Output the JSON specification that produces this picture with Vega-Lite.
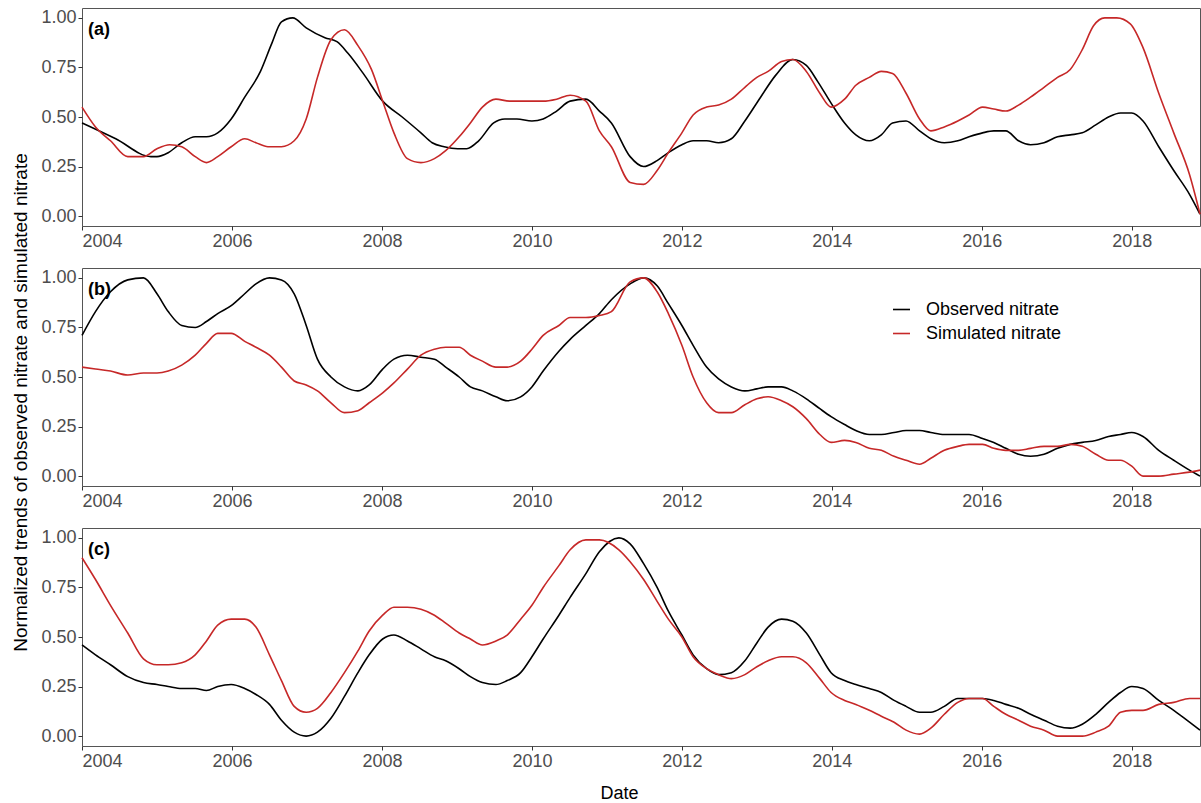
{
  "$schema": "https://vega.github.io/schema/vega-lite/v6.json",
  "background": "white",
  "padding": {"left": 11, "top": 7, "right": 1, "bottom": 1},
  "config": {
    "font": "Liberation Sans",
    "view": {"stroke": "#555555", "strokeWidth": 1},
    "axis": {"grid": false, "domain": false, "tickColor": "#333333", "tickSize": 4, "labelFontSize": 18, "labelColor": "#4d4d4d", "labelPadding": 2, "titleFontSize": 19, "titleColor": "#000000", "titleFontWeight": "normal", "labelFont": "Liberation Sans", "titleFont": "Liberation Sans"}
  },
  "spacing": 42,
  "bounds": "flush",
  "resolve": {"scale": {"color": "independent"}, "legend": {"color": "independent"}},
  "datasets": {
    "d": [
      {"panel":"a","series":"Observed nitrate","year":2004.00,"value":0.47},
      {"panel":"a","series":"Observed nitrate","year":2004.45,"value":0.39},
      {"panel":"a","series":"Observed nitrate","year":2004.92,"value":0.30},
      {"panel":"a","series":"Observed nitrate","year":2005.00,"value":0.30},
      {"panel":"a","series":"Observed nitrate","year":2005.15,"value":0.32},
      {"panel":"a","series":"Observed nitrate","year":2005.33,"value":0.37},
      {"panel":"a","series":"Observed nitrate","year":2005.51,"value":0.40},
      {"panel":"a","series":"Observed nitrate","year":2005.66,"value":0.40},
      {"panel":"a","series":"Observed nitrate","year":2005.81,"value":0.42},
      {"panel":"a","series":"Observed nitrate","year":2005.99,"value":0.49},
      {"panel":"a","series":"Observed nitrate","year":2006.17,"value":0.60},
      {"panel":"a","series":"Observed nitrate","year":2006.38,"value":0.73},
      {"panel":"a","series":"Observed nitrate","year":2006.53,"value":0.87},
      {"panel":"a","series":"Observed nitrate","year":2006.66,"value":0.98},
      {"panel":"a","series":"Observed nitrate","year":2006.81,"value":1.00},
      {"panel":"a","series":"Observed nitrate","year":2006.99,"value":0.95},
      {"panel":"a","series":"Observed nitrate","year":2007.24,"value":0.90},
      {"panel":"a","series":"Observed nitrate","year":2007.40,"value":0.88},
      {"panel":"a","series":"Observed nitrate","year":2007.55,"value":0.82},
      {"panel":"a","series":"Observed nitrate","year":2007.75,"value":0.72},
      {"panel":"a","series":"Observed nitrate","year":2008.01,"value":0.58},
      {"panel":"a","series":"Observed nitrate","year":2008.27,"value":0.50},
      {"panel":"a","series":"Observed nitrate","year":2008.52,"value":0.42},
      {"panel":"a","series":"Observed nitrate","year":2008.67,"value":0.37},
      {"panel":"a","series":"Observed nitrate","year":2008.83,"value":0.35},
      {"panel":"a","series":"Observed nitrate","year":2009.01,"value":0.34},
      {"panel":"a","series":"Observed nitrate","year":2009.13,"value":0.34},
      {"panel":"a","series":"Observed nitrate","year":2009.29,"value":0.38},
      {"panel":"a","series":"Observed nitrate","year":2009.49,"value":0.47},
      {"panel":"a","series":"Observed nitrate","year":2009.64,"value":0.49},
      {"panel":"a","series":"Observed nitrate","year":2009.80,"value":0.49},
      {"panel":"a","series":"Observed nitrate","year":2010.00,"value":0.48},
      {"panel":"a","series":"Observed nitrate","year":2010.15,"value":0.49},
      {"panel":"a","series":"Observed nitrate","year":2010.33,"value":0.53},
      {"panel":"a","series":"Observed nitrate","year":2010.51,"value":0.58},
      {"panel":"a","series":"Observed nitrate","year":2010.72,"value":0.59},
      {"panel":"a","series":"Observed nitrate","year":2010.90,"value":0.53},
      {"panel":"a","series":"Observed nitrate","year":2011.06,"value":0.47},
      {"panel":"a","series":"Observed nitrate","year":2011.31,"value":0.30},
      {"panel":"a","series":"Observed nitrate","year":2011.49,"value":0.25},
      {"panel":"a","series":"Observed nitrate","year":2011.67,"value":0.28},
      {"panel":"a","series":"Observed nitrate","year":2011.82,"value":0.32},
      {"panel":"a","series":"Observed nitrate","year":2012.00,"value":0.36},
      {"panel":"a","series":"Observed nitrate","year":2012.15,"value":0.38},
      {"panel":"a","series":"Observed nitrate","year":2012.33,"value":0.38},
      {"panel":"a","series":"Observed nitrate","year":2012.49,"value":0.37},
      {"panel":"a","series":"Observed nitrate","year":2012.66,"value":0.39},
      {"panel":"a","series":"Observed nitrate","year":2012.84,"value":0.48},
      {"panel":"a","series":"Observed nitrate","year":2013.05,"value":0.60},
      {"panel":"a","series":"Observed nitrate","year":2013.25,"value":0.71},
      {"panel":"a","series":"Observed nitrate","year":2013.48,"value":0.79},
      {"panel":"a","series":"Observed nitrate","year":2013.66,"value":0.76},
      {"panel":"a","series":"Observed nitrate","year":2013.81,"value":0.68},
      {"panel":"a","series":"Observed nitrate","year":2013.99,"value":0.57},
      {"panel":"a","series":"Observed nitrate","year":2014.17,"value":0.47},
      {"panel":"a","series":"Observed nitrate","year":2014.32,"value":0.41},
      {"panel":"a","series":"Observed nitrate","year":2014.50,"value":0.38},
      {"panel":"a","series":"Observed nitrate","year":2014.66,"value":0.41},
      {"panel":"a","series":"Observed nitrate","year":2014.81,"value":0.47},
      {"panel":"a","series":"Observed nitrate","year":2014.99,"value":0.48},
      {"panel":"a","series":"Observed nitrate","year":2015.17,"value":0.43},
      {"panel":"a","series":"Observed nitrate","year":2015.32,"value":0.39},
      {"panel":"a","series":"Observed nitrate","year":2015.50,"value":0.37},
      {"panel":"a","series":"Observed nitrate","year":2015.68,"value":0.38},
      {"panel":"a","series":"Observed nitrate","year":2015.83,"value":0.40},
      {"panel":"a","series":"Observed nitrate","year":2016.01,"value":0.42},
      {"panel":"a","series":"Observed nitrate","year":2016.16,"value":0.43},
      {"panel":"a","series":"Observed nitrate","year":2016.32,"value":0.43},
      {"panel":"a","series":"Observed nitrate","year":2016.49,"value":0.38},
      {"panel":"a","series":"Observed nitrate","year":2016.65,"value":0.36},
      {"panel":"a","series":"Observed nitrate","year":2016.83,"value":0.37},
      {"panel":"a","series":"Observed nitrate","year":2017.01,"value":0.40},
      {"panel":"a","series":"Observed nitrate","year":2017.18,"value":0.41},
      {"panel":"a","series":"Observed nitrate","year":2017.34,"value":0.42},
      {"panel":"a","series":"Observed nitrate","year":2017.52,"value":0.46},
      {"panel":"a","series":"Observed nitrate","year":2017.69,"value":0.50},
      {"panel":"a","series":"Observed nitrate","year":2017.85,"value":0.52},
      {"panel":"a","series":"Observed nitrate","year":2018.00,"value":0.52},
      {"panel":"a","series":"Observed nitrate","year":2018.15,"value":0.48},
      {"panel":"a","series":"Observed nitrate","year":2018.36,"value":0.35},
      {"panel":"a","series":"Observed nitrate","year":2018.56,"value":0.23},
      {"panel":"a","series":"Observed nitrate","year":2018.77,"value":0.11},
      {"panel":"a","series":"Observed nitrate","year":2018.91,"value":0.01},

      {"panel":"a","series":"Simulated nitrate","year":2004.00,"value":0.55},
      {"panel":"a","series":"Simulated nitrate","year":2004.18,"value":0.45},
      {"panel":"a","series":"Simulated nitrate","year":2004.38,"value":0.38},
      {"panel":"a","series":"Simulated nitrate","year":2004.61,"value":0.30},
      {"panel":"a","series":"Simulated nitrate","year":2004.82,"value":0.30},
      {"panel":"a","series":"Simulated nitrate","year":2005.00,"value":0.34},
      {"panel":"a","series":"Simulated nitrate","year":2005.17,"value":0.36},
      {"panel":"a","series":"Simulated nitrate","year":2005.33,"value":0.35},
      {"panel":"a","series":"Simulated nitrate","year":2005.51,"value":0.30},
      {"panel":"a","series":"Simulated nitrate","year":2005.66,"value":0.27},
      {"panel":"a","series":"Simulated nitrate","year":2005.81,"value":0.30},
      {"panel":"a","series":"Simulated nitrate","year":2005.99,"value":0.35},
      {"panel":"a","series":"Simulated nitrate","year":2006.17,"value":0.39},
      {"panel":"a","series":"Simulated nitrate","year":2006.32,"value":0.37},
      {"panel":"a","series":"Simulated nitrate","year":2006.48,"value":0.35},
      {"panel":"a","series":"Simulated nitrate","year":2006.66,"value":0.35},
      {"panel":"a","series":"Simulated nitrate","year":2006.83,"value":0.38},
      {"panel":"a","series":"Simulated nitrate","year":2006.99,"value":0.49},
      {"panel":"a","series":"Simulated nitrate","year":2007.14,"value":0.70},
      {"panel":"a","series":"Simulated nitrate","year":2007.32,"value":0.89},
      {"panel":"a","series":"Simulated nitrate","year":2007.50,"value":0.94},
      {"panel":"a","series":"Simulated nitrate","year":2007.68,"value":0.86},
      {"panel":"a","series":"Simulated nitrate","year":2007.86,"value":0.74},
      {"panel":"a","series":"Simulated nitrate","year":2008.01,"value":0.58},
      {"panel":"a","series":"Simulated nitrate","year":2008.16,"value":0.42},
      {"panel":"a","series":"Simulated nitrate","year":2008.34,"value":0.29},
      {"panel":"a","series":"Simulated nitrate","year":2008.52,"value":0.27},
      {"panel":"a","series":"Simulated nitrate","year":2008.70,"value":0.29},
      {"panel":"a","series":"Simulated nitrate","year":2008.85,"value":0.33},
      {"panel":"a","series":"Simulated nitrate","year":2009.03,"value":0.40},
      {"panel":"a","series":"Simulated nitrate","year":2009.18,"value":0.47},
      {"panel":"a","series":"Simulated nitrate","year":2009.34,"value":0.55},
      {"panel":"a","series":"Simulated nitrate","year":2009.52,"value":0.59},
      {"panel":"a","series":"Simulated nitrate","year":2009.70,"value":0.58},
      {"panel":"a","series":"Simulated nitrate","year":2009.85,"value":0.58},
      {"panel":"a","series":"Simulated nitrate","year":2010.00,"value":0.58},
      {"panel":"a","series":"Simulated nitrate","year":2010.15,"value":0.58},
      {"panel":"a","series":"Simulated nitrate","year":2010.33,"value":0.59},
      {"panel":"a","series":"Simulated nitrate","year":2010.51,"value":0.61},
      {"panel":"a","series":"Simulated nitrate","year":2010.72,"value":0.58},
      {"panel":"a","series":"Simulated nitrate","year":2010.90,"value":0.43},
      {"panel":"a","series":"Simulated nitrate","year":2011.06,"value":0.35},
      {"panel":"a","series":"Simulated nitrate","year":2011.31,"value":0.17},
      {"panel":"a","series":"Simulated nitrate","year":2011.49,"value":0.16},
      {"panel":"a","series":"Simulated nitrate","year":2011.67,"value":0.23},
      {"panel":"a","series":"Simulated nitrate","year":2011.82,"value":0.32},
      {"panel":"a","series":"Simulated nitrate","year":2012.00,"value":0.42},
      {"panel":"a","series":"Simulated nitrate","year":2012.15,"value":0.51},
      {"panel":"a","series":"Simulated nitrate","year":2012.33,"value":0.55},
      {"panel":"a","series":"Simulated nitrate","year":2012.49,"value":0.56},
      {"panel":"a","series":"Simulated nitrate","year":2012.66,"value":0.59},
      {"panel":"a","series":"Simulated nitrate","year":2012.84,"value":0.65},
      {"panel":"a","series":"Simulated nitrate","year":2013.00,"value":0.70},
      {"panel":"a","series":"Simulated nitrate","year":2013.15,"value":0.73},
      {"panel":"a","series":"Simulated nitrate","year":2013.33,"value":0.78},
      {"panel":"a","series":"Simulated nitrate","year":2013.48,"value":0.79},
      {"panel":"a","series":"Simulated nitrate","year":2013.66,"value":0.73},
      {"panel":"a","series":"Simulated nitrate","year":2013.84,"value":0.62},
      {"panel":"a","series":"Simulated nitrate","year":2013.99,"value":0.55},
      {"panel":"a","series":"Simulated nitrate","year":2014.17,"value":0.59},
      {"panel":"a","series":"Simulated nitrate","year":2014.32,"value":0.66},
      {"panel":"a","series":"Simulated nitrate","year":2014.50,"value":0.70},
      {"panel":"a","series":"Simulated nitrate","year":2014.66,"value":0.73},
      {"panel":"a","series":"Simulated nitrate","year":2014.81,"value":0.72},
      {"panel":"a","series":"Simulated nitrate","year":2014.99,"value":0.62},
      {"panel":"a","series":"Simulated nitrate","year":2015.17,"value":0.49},
      {"panel":"a","series":"Simulated nitrate","year":2015.32,"value":0.43},
      {"panel":"a","series":"Simulated nitrate","year":2015.50,"value":0.45},
      {"panel":"a","series":"Simulated nitrate","year":2015.68,"value":0.48},
      {"panel":"a","series":"Simulated nitrate","year":2015.83,"value":0.51},
      {"panel":"a","series":"Simulated nitrate","year":2016.01,"value":0.55},
      {"panel":"a","series":"Simulated nitrate","year":2016.16,"value":0.54},
      {"panel":"a","series":"Simulated nitrate","year":2016.32,"value":0.53},
      {"panel":"a","series":"Simulated nitrate","year":2016.49,"value":0.56},
      {"panel":"a","series":"Simulated nitrate","year":2016.65,"value":0.60},
      {"panel":"a","series":"Simulated nitrate","year":2016.83,"value":0.65},
      {"panel":"a","series":"Simulated nitrate","year":2017.01,"value":0.70},
      {"panel":"a","series":"Simulated nitrate","year":2017.18,"value":0.74},
      {"panel":"a","series":"Simulated nitrate","year":2017.34,"value":0.84},
      {"panel":"a","series":"Simulated nitrate","year":2017.49,"value":0.96},
      {"panel":"a","series":"Simulated nitrate","year":2017.64,"value":1.00},
      {"panel":"a","series":"Simulated nitrate","year":2017.80,"value":1.00},
      {"panel":"a","series":"Simulated nitrate","year":2017.98,"value":0.97},
      {"panel":"a","series":"Simulated nitrate","year":2018.15,"value":0.85},
      {"panel":"a","series":"Simulated nitrate","year":2018.36,"value":0.62},
      {"panel":"a","series":"Simulated nitrate","year":2018.56,"value":0.42},
      {"panel":"a","series":"Simulated nitrate","year":2018.77,"value":0.21},
      {"panel":"a","series":"Simulated nitrate","year":2018.91,"value":0.01},

      {"panel":"b","series":"Observed nitrate","year":2004.00,"value":0.71},
      {"panel":"b","series":"Observed nitrate","year":2004.18,"value":0.83},
      {"panel":"b","series":"Observed nitrate","year":2004.38,"value":0.93},
      {"panel":"b","series":"Observed nitrate","year":2004.61,"value":0.99},
      {"panel":"b","series":"Observed nitrate","year":2004.82,"value":1.00},
      {"panel":"b","series":"Observed nitrate","year":2005.00,"value":0.92},
      {"panel":"b","series":"Observed nitrate","year":2005.15,"value":0.83},
      {"panel":"b","series":"Observed nitrate","year":2005.33,"value":0.76},
      {"panel":"b","series":"Observed nitrate","year":2005.51,"value":0.75},
      {"panel":"b","series":"Observed nitrate","year":2005.66,"value":0.78},
      {"panel":"b","series":"Observed nitrate","year":2005.81,"value":0.82},
      {"panel":"b","series":"Observed nitrate","year":2005.99,"value":0.86},
      {"panel":"b","series":"Observed nitrate","year":2006.17,"value":0.92},
      {"panel":"b","series":"Observed nitrate","year":2006.32,"value":0.97},
      {"panel":"b","series":"Observed nitrate","year":2006.50,"value":1.00},
      {"panel":"b","series":"Observed nitrate","year":2006.66,"value":0.99},
      {"panel":"b","series":"Observed nitrate","year":2006.83,"value":0.92},
      {"panel":"b","series":"Observed nitrate","year":2006.99,"value":0.76},
      {"panel":"b","series":"Observed nitrate","year":2007.14,"value":0.59},
      {"panel":"b","series":"Observed nitrate","year":2007.32,"value":0.50},
      {"panel":"b","series":"Observed nitrate","year":2007.50,"value":0.45},
      {"panel":"b","series":"Observed nitrate","year":2007.68,"value":0.43},
      {"panel":"b","series":"Observed nitrate","year":2007.83,"value":0.46},
      {"panel":"b","series":"Observed nitrate","year":2008.01,"value":0.54},
      {"panel":"b","series":"Observed nitrate","year":2008.16,"value":0.59},
      {"panel":"b","series":"Observed nitrate","year":2008.34,"value":0.61},
      {"panel":"b","series":"Observed nitrate","year":2008.52,"value":0.60},
      {"panel":"b","series":"Observed nitrate","year":2008.70,"value":0.59},
      {"panel":"b","series":"Observed nitrate","year":2008.85,"value":0.55},
      {"panel":"b","series":"Observed nitrate","year":2009.03,"value":0.50},
      {"panel":"b","series":"Observed nitrate","year":2009.18,"value":0.45},
      {"panel":"b","series":"Observed nitrate","year":2009.34,"value":0.43},
      {"panel":"b","series":"Observed nitrate","year":2009.52,"value":0.40},
      {"panel":"b","series":"Observed nitrate","year":2009.67,"value":0.38},
      {"panel":"b","series":"Observed nitrate","year":2009.85,"value":0.40},
      {"panel":"b","series":"Observed nitrate","year":2010.00,"value":0.45},
      {"panel":"b","series":"Observed nitrate","year":2010.15,"value":0.53},
      {"panel":"b","series":"Observed nitrate","year":2010.36,"value":0.63},
      {"panel":"b","series":"Observed nitrate","year":2010.51,"value":0.69},
      {"panel":"b","series":"Observed nitrate","year":2010.72,"value":0.76},
      {"panel":"b","series":"Observed nitrate","year":2010.90,"value":0.82},
      {"panel":"b","series":"Observed nitrate","year":2011.06,"value":0.89},
      {"panel":"b","series":"Observed nitrate","year":2011.31,"value":0.97},
      {"panel":"b","series":"Observed nitrate","year":2011.49,"value":1.00},
      {"panel":"b","series":"Observed nitrate","year":2011.67,"value":0.96},
      {"panel":"b","series":"Observed nitrate","year":2011.82,"value":0.87},
      {"panel":"b","series":"Observed nitrate","year":2012.00,"value":0.76},
      {"panel":"b","series":"Observed nitrate","year":2012.15,"value":0.66},
      {"panel":"b","series":"Observed nitrate","year":2012.33,"value":0.55},
      {"panel":"b","series":"Observed nitrate","year":2012.49,"value":0.49},
      {"panel":"b","series":"Observed nitrate","year":2012.66,"value":0.45},
      {"panel":"b","series":"Observed nitrate","year":2012.84,"value":0.43},
      {"panel":"b","series":"Observed nitrate","year":2013.00,"value":0.44},
      {"panel":"b","series":"Observed nitrate","year":2013.15,"value":0.45},
      {"panel":"b","series":"Observed nitrate","year":2013.33,"value":0.45},
      {"panel":"b","series":"Observed nitrate","year":2013.48,"value":0.43},
      {"panel":"b","series":"Observed nitrate","year":2013.66,"value":0.39},
      {"panel":"b","series":"Observed nitrate","year":2013.84,"value":0.34},
      {"panel":"b","series":"Observed nitrate","year":2013.99,"value":0.30},
      {"panel":"b","series":"Observed nitrate","year":2014.17,"value":0.26},
      {"panel":"b","series":"Observed nitrate","year":2014.32,"value":0.23},
      {"panel":"b","series":"Observed nitrate","year":2014.50,"value":0.21},
      {"panel":"b","series":"Observed nitrate","year":2014.66,"value":0.21},
      {"panel":"b","series":"Observed nitrate","year":2014.83,"value":0.22},
      {"panel":"b","series":"Observed nitrate","year":2014.99,"value":0.23},
      {"panel":"b","series":"Observed nitrate","year":2015.17,"value":0.23},
      {"panel":"b","series":"Observed nitrate","year":2015.32,"value":0.22},
      {"panel":"b","series":"Observed nitrate","year":2015.50,"value":0.21},
      {"panel":"b","series":"Observed nitrate","year":2015.68,"value":0.21},
      {"panel":"b","series":"Observed nitrate","year":2015.83,"value":0.21},
      {"panel":"b","series":"Observed nitrate","year":2016.01,"value":0.19},
      {"panel":"b","series":"Observed nitrate","year":2016.16,"value":0.17},
      {"panel":"b","series":"Observed nitrate","year":2016.32,"value":0.14},
      {"panel":"b","series":"Observed nitrate","year":2016.49,"value":0.11},
      {"panel":"b","series":"Observed nitrate","year":2016.65,"value":0.10},
      {"panel":"b","series":"Observed nitrate","year":2016.83,"value":0.11},
      {"panel":"b","series":"Observed nitrate","year":2017.01,"value":0.14},
      {"panel":"b","series":"Observed nitrate","year":2017.18,"value":0.16},
      {"panel":"b","series":"Observed nitrate","year":2017.34,"value":0.17},
      {"panel":"b","series":"Observed nitrate","year":2017.52,"value":0.18},
      {"panel":"b","series":"Observed nitrate","year":2017.69,"value":0.20},
      {"panel":"b","series":"Observed nitrate","year":2017.85,"value":0.21},
      {"panel":"b","series":"Observed nitrate","year":2018.00,"value":0.22},
      {"panel":"b","series":"Observed nitrate","year":2018.15,"value":0.20},
      {"panel":"b","series":"Observed nitrate","year":2018.36,"value":0.13},
      {"panel":"b","series":"Observed nitrate","year":2018.56,"value":0.08},
      {"panel":"b","series":"Observed nitrate","year":2018.77,"value":0.03},
      {"panel":"b","series":"Observed nitrate","year":2018.91,"value":0.00},

      {"panel":"b","series":"Simulated nitrate","year":2004.00,"value":0.55},
      {"panel":"b","series":"Simulated nitrate","year":2004.18,"value":0.54},
      {"panel":"b","series":"Simulated nitrate","year":2004.38,"value":0.53},
      {"panel":"b","series":"Simulated nitrate","year":2004.61,"value":0.51},
      {"panel":"b","series":"Simulated nitrate","year":2004.82,"value":0.52},
      {"panel":"b","series":"Simulated nitrate","year":2005.00,"value":0.52},
      {"panel":"b","series":"Simulated nitrate","year":2005.15,"value":0.53},
      {"panel":"b","series":"Simulated nitrate","year":2005.33,"value":0.56},
      {"panel":"b","series":"Simulated nitrate","year":2005.51,"value":0.61},
      {"panel":"b","series":"Simulated nitrate","year":2005.66,"value":0.67},
      {"panel":"b","series":"Simulated nitrate","year":2005.81,"value":0.72},
      {"panel":"b","series":"Simulated nitrate","year":2005.99,"value":0.72},
      {"panel":"b","series":"Simulated nitrate","year":2006.17,"value":0.68},
      {"panel":"b","series":"Simulated nitrate","year":2006.32,"value":0.65},
      {"panel":"b","series":"Simulated nitrate","year":2006.50,"value":0.61},
      {"panel":"b","series":"Simulated nitrate","year":2006.66,"value":0.55},
      {"panel":"b","series":"Simulated nitrate","year":2006.83,"value":0.48},
      {"panel":"b","series":"Simulated nitrate","year":2006.99,"value":0.46},
      {"panel":"b","series":"Simulated nitrate","year":2007.14,"value":0.43},
      {"panel":"b","series":"Simulated nitrate","year":2007.32,"value":0.37},
      {"panel":"b","series":"Simulated nitrate","year":2007.50,"value":0.32},
      {"panel":"b","series":"Simulated nitrate","year":2007.68,"value":0.33},
      {"panel":"b","series":"Simulated nitrate","year":2007.83,"value":0.37},
      {"panel":"b","series":"Simulated nitrate","year":2008.01,"value":0.42},
      {"panel":"b","series":"Simulated nitrate","year":2008.16,"value":0.47},
      {"panel":"b","series":"Simulated nitrate","year":2008.34,"value":0.54},
      {"panel":"b","series":"Simulated nitrate","year":2008.52,"value":0.61},
      {"panel":"b","series":"Simulated nitrate","year":2008.70,"value":0.64},
      {"panel":"b","series":"Simulated nitrate","year":2008.85,"value":0.65},
      {"panel":"b","series":"Simulated nitrate","year":2009.03,"value":0.65},
      {"panel":"b","series":"Simulated nitrate","year":2009.18,"value":0.61},
      {"panel":"b","series":"Simulated nitrate","year":2009.34,"value":0.58},
      {"panel":"b","series":"Simulated nitrate","year":2009.52,"value":0.55},
      {"panel":"b","series":"Simulated nitrate","year":2009.67,"value":0.55},
      {"panel":"b","series":"Simulated nitrate","year":2009.85,"value":0.58},
      {"panel":"b","series":"Simulated nitrate","year":2010.00,"value":0.64},
      {"panel":"b","series":"Simulated nitrate","year":2010.15,"value":0.71},
      {"panel":"b","series":"Simulated nitrate","year":2010.36,"value":0.76},
      {"panel":"b","series":"Simulated nitrate","year":2010.51,"value":0.80},
      {"panel":"b","series":"Simulated nitrate","year":2010.72,"value":0.80},
      {"panel":"b","series":"Simulated nitrate","year":2010.90,"value":0.81},
      {"panel":"b","series":"Simulated nitrate","year":2011.06,"value":0.83},
      {"panel":"b","series":"Simulated nitrate","year":2011.31,"value":0.98},
      {"panel":"b","series":"Simulated nitrate","year":2011.49,"value":1.00},
      {"panel":"b","series":"Simulated nitrate","year":2011.67,"value":0.93},
      {"panel":"b","series":"Simulated nitrate","year":2011.82,"value":0.82},
      {"panel":"b","series":"Simulated nitrate","year":2012.00,"value":0.66},
      {"panel":"b","series":"Simulated nitrate","year":2012.15,"value":0.50},
      {"panel":"b","series":"Simulated nitrate","year":2012.33,"value":0.37},
      {"panel":"b","series":"Simulated nitrate","year":2012.49,"value":0.32},
      {"panel":"b","series":"Simulated nitrate","year":2012.66,"value":0.32},
      {"panel":"b","series":"Simulated nitrate","year":2012.84,"value":0.36},
      {"panel":"b","series":"Simulated nitrate","year":2013.00,"value":0.39},
      {"panel":"b","series":"Simulated nitrate","year":2013.15,"value":0.40},
      {"panel":"b","series":"Simulated nitrate","year":2013.33,"value":0.38},
      {"panel":"b","series":"Simulated nitrate","year":2013.48,"value":0.35},
      {"panel":"b","series":"Simulated nitrate","year":2013.66,"value":0.29},
      {"panel":"b","series":"Simulated nitrate","year":2013.84,"value":0.21},
      {"panel":"b","series":"Simulated nitrate","year":2013.99,"value":0.17},
      {"panel":"b","series":"Simulated nitrate","year":2014.17,"value":0.18},
      {"panel":"b","series":"Simulated nitrate","year":2014.32,"value":0.17},
      {"panel":"b","series":"Simulated nitrate","year":2014.50,"value":0.14},
      {"panel":"b","series":"Simulated nitrate","year":2014.66,"value":0.13},
      {"panel":"b","series":"Simulated nitrate","year":2014.83,"value":0.10},
      {"panel":"b","series":"Simulated nitrate","year":2014.99,"value":0.08},
      {"panel":"b","series":"Simulated nitrate","year":2015.17,"value":0.06},
      {"panel":"b","series":"Simulated nitrate","year":2015.32,"value":0.09},
      {"panel":"b","series":"Simulated nitrate","year":2015.50,"value":0.13},
      {"panel":"b","series":"Simulated nitrate","year":2015.68,"value":0.15},
      {"panel":"b","series":"Simulated nitrate","year":2015.83,"value":0.16},
      {"panel":"b","series":"Simulated nitrate","year":2016.01,"value":0.16},
      {"panel":"b","series":"Simulated nitrate","year":2016.16,"value":0.14},
      {"panel":"b","series":"Simulated nitrate","year":2016.32,"value":0.13},
      {"panel":"b","series":"Simulated nitrate","year":2016.49,"value":0.13},
      {"panel":"b","series":"Simulated nitrate","year":2016.65,"value":0.14},
      {"panel":"b","series":"Simulated nitrate","year":2016.83,"value":0.15},
      {"panel":"b","series":"Simulated nitrate","year":2017.01,"value":0.15},
      {"panel":"b","series":"Simulated nitrate","year":2017.18,"value":0.16},
      {"panel":"b","series":"Simulated nitrate","year":2017.34,"value":0.15},
      {"panel":"b","series":"Simulated nitrate","year":2017.52,"value":0.11},
      {"panel":"b","series":"Simulated nitrate","year":2017.69,"value":0.08},
      {"panel":"b","series":"Simulated nitrate","year":2017.85,"value":0.08},
      {"panel":"b","series":"Simulated nitrate","year":2018.00,"value":0.05},
      {"panel":"b","series":"Simulated nitrate","year":2018.15,"value":0.00},
      {"panel":"b","series":"Simulated nitrate","year":2018.36,"value":0.00},
      {"panel":"b","series":"Simulated nitrate","year":2018.56,"value":0.01},
      {"panel":"b","series":"Simulated nitrate","year":2018.77,"value":0.02},
      {"panel":"b","series":"Simulated nitrate","year":2018.91,"value":0.03},

      {"panel":"c","series":"Observed nitrate","year":2004.00,"value":0.46},
      {"panel":"c","series":"Observed nitrate","year":2004.18,"value":0.41},
      {"panel":"c","series":"Observed nitrate","year":2004.38,"value":0.36},
      {"panel":"c","series":"Observed nitrate","year":2004.61,"value":0.30},
      {"panel":"c","series":"Observed nitrate","year":2004.82,"value":0.27},
      {"panel":"c","series":"Observed nitrate","year":2005.00,"value":0.26},
      {"panel":"c","series":"Observed nitrate","year":2005.15,"value":0.25},
      {"panel":"c","series":"Observed nitrate","year":2005.33,"value":0.24},
      {"panel":"c","series":"Observed nitrate","year":2005.51,"value":0.24},
      {"panel":"c","series":"Observed nitrate","year":2005.66,"value":0.23},
      {"panel":"c","series":"Observed nitrate","year":2005.81,"value":0.25},
      {"panel":"c","series":"Observed nitrate","year":2005.99,"value":0.26},
      {"panel":"c","series":"Observed nitrate","year":2006.17,"value":0.24},
      {"panel":"c","series":"Observed nitrate","year":2006.32,"value":0.21},
      {"panel":"c","series":"Observed nitrate","year":2006.50,"value":0.16},
      {"panel":"c","series":"Observed nitrate","year":2006.66,"value":0.08},
      {"panel":"c","series":"Observed nitrate","year":2006.83,"value":0.02},
      {"panel":"c","series":"Observed nitrate","year":2006.99,"value":0.00},
      {"panel":"c","series":"Observed nitrate","year":2007.14,"value":0.02},
      {"panel":"c","series":"Observed nitrate","year":2007.32,"value":0.09},
      {"panel":"c","series":"Observed nitrate","year":2007.50,"value":0.20},
      {"panel":"c","series":"Observed nitrate","year":2007.68,"value":0.32},
      {"panel":"c","series":"Observed nitrate","year":2007.83,"value":0.41},
      {"panel":"c","series":"Observed nitrate","year":2008.01,"value":0.49},
      {"panel":"c","series":"Observed nitrate","year":2008.16,"value":0.51},
      {"panel":"c","series":"Observed nitrate","year":2008.34,"value":0.48},
      {"panel":"c","series":"Observed nitrate","year":2008.52,"value":0.44},
      {"panel":"c","series":"Observed nitrate","year":2008.70,"value":0.40},
      {"panel":"c","series":"Observed nitrate","year":2008.85,"value":0.38},
      {"panel":"c","series":"Observed nitrate","year":2009.03,"value":0.34},
      {"panel":"c","series":"Observed nitrate","year":2009.18,"value":0.30},
      {"panel":"c","series":"Observed nitrate","year":2009.34,"value":0.27},
      {"panel":"c","series":"Observed nitrate","year":2009.52,"value":0.26},
      {"panel":"c","series":"Observed nitrate","year":2009.67,"value":0.28},
      {"panel":"c","series":"Observed nitrate","year":2009.85,"value":0.32},
      {"panel":"c","series":"Observed nitrate","year":2010.00,"value":0.40},
      {"panel":"c","series":"Observed nitrate","year":2010.15,"value":0.49},
      {"panel":"c","series":"Observed nitrate","year":2010.36,"value":0.61},
      {"panel":"c","series":"Observed nitrate","year":2010.51,"value":0.70},
      {"panel":"c","series":"Observed nitrate","year":2010.72,"value":0.82},
      {"panel":"c","series":"Observed nitrate","year":2010.90,"value":0.93},
      {"panel":"c","series":"Observed nitrate","year":2011.16,"value":1.00},
      {"panel":"c","series":"Observed nitrate","year":2011.31,"value":0.97},
      {"panel":"c","series":"Observed nitrate","year":2011.49,"value":0.87},
      {"panel":"c","series":"Observed nitrate","year":2011.67,"value":0.75},
      {"panel":"c","series":"Observed nitrate","year":2011.82,"value":0.63},
      {"panel":"c","series":"Observed nitrate","year":2012.00,"value":0.51},
      {"panel":"c","series":"Observed nitrate","year":2012.15,"value":0.41},
      {"panel":"c","series":"Observed nitrate","year":2012.33,"value":0.34},
      {"panel":"c","series":"Observed nitrate","year":2012.49,"value":0.31},
      {"panel":"c","series":"Observed nitrate","year":2012.66,"value":0.32},
      {"panel":"c","series":"Observed nitrate","year":2012.84,"value":0.38},
      {"panel":"c","series":"Observed nitrate","year":2013.00,"value":0.47},
      {"panel":"c","series":"Observed nitrate","year":2013.15,"value":0.55},
      {"panel":"c","series":"Observed nitrate","year":2013.33,"value":0.59},
      {"panel":"c","series":"Observed nitrate","year":2013.48,"value":0.58},
      {"panel":"c","series":"Observed nitrate","year":2013.66,"value":0.52},
      {"panel":"c","series":"Observed nitrate","year":2013.84,"value":0.41},
      {"panel":"c","series":"Observed nitrate","year":2013.99,"value":0.32},
      {"panel":"c","series":"Observed nitrate","year":2014.17,"value":0.28},
      {"panel":"c","series":"Observed nitrate","year":2014.32,"value":0.26},
      {"panel":"c","series":"Observed nitrate","year":2014.50,"value":0.24},
      {"panel":"c","series":"Observed nitrate","year":2014.66,"value":0.22},
      {"panel":"c","series":"Observed nitrate","year":2014.83,"value":0.18},
      {"panel":"c","series":"Observed nitrate","year":2014.99,"value":0.15},
      {"panel":"c","series":"Observed nitrate","year":2015.17,"value":0.12},
      {"panel":"c","series":"Observed nitrate","year":2015.32,"value":0.12},
      {"panel":"c","series":"Observed nitrate","year":2015.50,"value":0.15},
      {"panel":"c","series":"Observed nitrate","year":2015.68,"value":0.19},
      {"panel":"c","series":"Observed nitrate","year":2015.83,"value":0.19},
      {"panel":"c","series":"Observed nitrate","year":2016.01,"value":0.19},
      {"panel":"c","series":"Observed nitrate","year":2016.16,"value":0.18},
      {"panel":"c","series":"Observed nitrate","year":2016.32,"value":0.16},
      {"panel":"c","series":"Observed nitrate","year":2016.49,"value":0.14},
      {"panel":"c","series":"Observed nitrate","year":2016.65,"value":0.11},
      {"panel":"c","series":"Observed nitrate","year":2016.83,"value":0.08},
      {"panel":"c","series":"Observed nitrate","year":2017.01,"value":0.05},
      {"panel":"c","series":"Observed nitrate","year":2017.18,"value":0.04},
      {"panel":"c","series":"Observed nitrate","year":2017.34,"value":0.06},
      {"panel":"c","series":"Observed nitrate","year":2017.52,"value":0.11},
      {"panel":"c","series":"Observed nitrate","year":2017.69,"value":0.17},
      {"panel":"c","series":"Observed nitrate","year":2017.85,"value":0.22},
      {"panel":"c","series":"Observed nitrate","year":2018.00,"value":0.25},
      {"panel":"c","series":"Observed nitrate","year":2018.15,"value":0.24},
      {"panel":"c","series":"Observed nitrate","year":2018.36,"value":0.18},
      {"panel":"c","series":"Observed nitrate","year":2018.56,"value":0.13},
      {"panel":"c","series":"Observed nitrate","year":2018.77,"value":0.07},
      {"panel":"c","series":"Observed nitrate","year":2018.91,"value":0.03},

      {"panel":"c","series":"Simulated nitrate","year":2004.00,"value":0.90},
      {"panel":"c","series":"Simulated nitrate","year":2004.18,"value":0.79},
      {"panel":"c","series":"Simulated nitrate","year":2004.38,"value":0.66},
      {"panel":"c","series":"Simulated nitrate","year":2004.61,"value":0.52},
      {"panel":"c","series":"Simulated nitrate","year":2004.82,"value":0.39},
      {"panel":"c","series":"Simulated nitrate","year":2005.00,"value":0.36},
      {"panel":"c","series":"Simulated nitrate","year":2005.15,"value":0.36},
      {"panel":"c","series":"Simulated nitrate","year":2005.33,"value":0.37},
      {"panel":"c","series":"Simulated nitrate","year":2005.51,"value":0.41},
      {"panel":"c","series":"Simulated nitrate","year":2005.66,"value":0.48},
      {"panel":"c","series":"Simulated nitrate","year":2005.81,"value":0.56},
      {"panel":"c","series":"Simulated nitrate","year":2005.99,"value":0.59},
      {"panel":"c","series":"Simulated nitrate","year":2006.17,"value":0.59},
      {"panel":"c","series":"Simulated nitrate","year":2006.32,"value":0.55},
      {"panel":"c","series":"Simulated nitrate","year":2006.50,"value":0.41},
      {"panel":"c","series":"Simulated nitrate","year":2006.66,"value":0.28},
      {"panel":"c","series":"Simulated nitrate","year":2006.83,"value":0.15},
      {"panel":"c","series":"Simulated nitrate","year":2006.99,"value":0.12},
      {"panel":"c","series":"Simulated nitrate","year":2007.14,"value":0.14},
      {"panel":"c","series":"Simulated nitrate","year":2007.32,"value":0.22},
      {"panel":"c","series":"Simulated nitrate","year":2007.50,"value":0.32},
      {"panel":"c","series":"Simulated nitrate","year":2007.68,"value":0.43},
      {"panel":"c","series":"Simulated nitrate","year":2007.83,"value":0.53},
      {"panel":"c","series":"Simulated nitrate","year":2008.01,"value":0.61},
      {"panel":"c","series":"Simulated nitrate","year":2008.16,"value":0.65},
      {"panel":"c","series":"Simulated nitrate","year":2008.34,"value":0.65},
      {"panel":"c","series":"Simulated nitrate","year":2008.52,"value":0.64},
      {"panel":"c","series":"Simulated nitrate","year":2008.70,"value":0.61},
      {"panel":"c","series":"Simulated nitrate","year":2008.85,"value":0.57},
      {"panel":"c","series":"Simulated nitrate","year":2009.03,"value":0.52},
      {"panel":"c","series":"Simulated nitrate","year":2009.18,"value":0.49},
      {"panel":"c","series":"Simulated nitrate","year":2009.34,"value":0.46},
      {"panel":"c","series":"Simulated nitrate","year":2009.52,"value":0.48},
      {"panel":"c","series":"Simulated nitrate","year":2009.67,"value":0.51},
      {"panel":"c","series":"Simulated nitrate","year":2009.85,"value":0.59},
      {"panel":"c","series":"Simulated nitrate","year":2010.00,"value":0.66},
      {"panel":"c","series":"Simulated nitrate","year":2010.15,"value":0.75},
      {"panel":"c","series":"Simulated nitrate","year":2010.36,"value":0.86},
      {"panel":"c","series":"Simulated nitrate","year":2010.51,"value":0.94},
      {"panel":"c","series":"Simulated nitrate","year":2010.72,"value":0.99},
      {"panel":"c","series":"Simulated nitrate","year":2010.90,"value":0.99},
      {"panel":"c","series":"Simulated nitrate","year":2011.16,"value":0.94},
      {"panel":"c","series":"Simulated nitrate","year":2011.31,"value":0.88},
      {"panel":"c","series":"Simulated nitrate","year":2011.49,"value":0.79},
      {"panel":"c","series":"Simulated nitrate","year":2011.67,"value":0.68},
      {"panel":"c","series":"Simulated nitrate","year":2011.82,"value":0.59},
      {"panel":"c","series":"Simulated nitrate","year":2012.00,"value":0.50},
      {"panel":"c","series":"Simulated nitrate","year":2012.15,"value":0.40},
      {"panel":"c","series":"Simulated nitrate","year":2012.33,"value":0.34},
      {"panel":"c","series":"Simulated nitrate","year":2012.49,"value":0.31},
      {"panel":"c","series":"Simulated nitrate","year":2012.66,"value":0.29},
      {"panel":"c","series":"Simulated nitrate","year":2012.84,"value":0.31},
      {"panel":"c","series":"Simulated nitrate","year":2013.00,"value":0.35},
      {"panel":"c","series":"Simulated nitrate","year":2013.15,"value":0.38},
      {"panel":"c","series":"Simulated nitrate","year":2013.33,"value":0.40},
      {"panel":"c","series":"Simulated nitrate","year":2013.48,"value":0.40},
      {"panel":"c","series":"Simulated nitrate","year":2013.66,"value":0.37},
      {"panel":"c","series":"Simulated nitrate","year":2013.84,"value":0.29},
      {"panel":"c","series":"Simulated nitrate","year":2013.99,"value":0.22},
      {"panel":"c","series":"Simulated nitrate","year":2014.17,"value":0.18},
      {"panel":"c","series":"Simulated nitrate","year":2014.32,"value":0.16},
      {"panel":"c","series":"Simulated nitrate","year":2014.50,"value":0.13},
      {"panel":"c","series":"Simulated nitrate","year":2014.66,"value":0.10},
      {"panel":"c","series":"Simulated nitrate","year":2014.83,"value":0.07},
      {"panel":"c","series":"Simulated nitrate","year":2014.99,"value":0.03},
      {"panel":"c","series":"Simulated nitrate","year":2015.17,"value":0.01},
      {"panel":"c","series":"Simulated nitrate","year":2015.32,"value":0.04},
      {"panel":"c","series":"Simulated nitrate","year":2015.50,"value":0.11},
      {"panel":"c","series":"Simulated nitrate","year":2015.68,"value":0.17},
      {"panel":"c","series":"Simulated nitrate","year":2015.83,"value":0.19},
      {"panel":"c","series":"Simulated nitrate","year":2016.01,"value":0.19},
      {"panel":"c","series":"Simulated nitrate","year":2016.16,"value":0.15},
      {"panel":"c","series":"Simulated nitrate","year":2016.32,"value":0.11},
      {"panel":"c","series":"Simulated nitrate","year":2016.49,"value":0.08},
      {"panel":"c","series":"Simulated nitrate","year":2016.65,"value":0.05},
      {"panel":"c","series":"Simulated nitrate","year":2016.83,"value":0.03},
      {"panel":"c","series":"Simulated nitrate","year":2017.01,"value":0.00},
      {"panel":"c","series":"Simulated nitrate","year":2017.18,"value":0.00},
      {"panel":"c","series":"Simulated nitrate","year":2017.34,"value":0.00},
      {"panel":"c","series":"Simulated nitrate","year":2017.52,"value":0.02},
      {"panel":"c","series":"Simulated nitrate","year":2017.69,"value":0.05},
      {"panel":"c","series":"Simulated nitrate","year":2017.85,"value":0.12},
      {"panel":"c","series":"Simulated nitrate","year":2018.00,"value":0.13},
      {"panel":"c","series":"Simulated nitrate","year":2018.15,"value":0.13},
      {"panel":"c","series":"Simulated nitrate","year":2018.36,"value":0.16},
      {"panel":"c","series":"Simulated nitrate","year":2018.56,"value":0.17},
      {"panel":"c","series":"Simulated nitrate","year":2018.77,"value":0.19},
      {"panel":"c","series":"Simulated nitrate","year":2018.91,"value":0.19}
    ]
  },
  "vconcat": [
    {
      "width": 1118,
      "height": 218,
      "layer": [
        {
          "data": {"name": "d"},
          "transform": [{"filter": "datum.panel == 'a'"}],
          "mark": {"type": "line", "strokeWidth": 1.6, "interpolate": "monotone"},
          "encoding": {
            "x": {"field": "year", "type": "quantitative", "scale": {"domain": [2004, 2018.91], "nice": false, "zero": false}, "axis": {"title": null, "values": [2004, 2006, 2008, 2010, 2012, 2014, 2016, 2018], "format": "d"}},
            "y": {"field": "value", "type": "quantitative", "scale": {"domain": [-0.05, 1.05], "nice": false, "zero": false}, "axis": {"title": null, "values": [0, 0.25, 0.5, 0.75, 1], "format": ".2f"}},
            "color": {"field": "series", "type": "nominal", "scale": {"domain": ["Observed nitrate", "Simulated nitrate"], "range": ["#000000", "#c62828"]}, "legend": null}
          }
        },
        {
          "data": {"values": [{"label": "(a)"}]},
          "mark": {"type": "text", "fontSize": 18, "fontWeight": "bold", "align": "left", "baseline": "middle", "color": "#000000"},
          "encoding": {"text": {"field": "label"}, "x": {"datum": 2004.08, "type": "quantitative"}, "y": {"datum": 0.94, "type": "quantitative"}}
        }
      ]
    },
    {
      "width": 1118,
      "height": 218,
      "layer": [
        {
          "data": {"name": "d"},
          "transform": [{"filter": "datum.panel == 'b'"}],
          "mark": {"type": "line", "strokeWidth": 1.6, "interpolate": "monotone"},
          "encoding": {
            "x": {"field": "year", "type": "quantitative", "scale": {"domain": [2004, 2018.91], "nice": false, "zero": false}, "axis": {"title": null, "values": [2004, 2006, 2008, 2010, 2012, 2014, 2016, 2018], "format": "d"}},
            "y": {"field": "value", "type": "quantitative", "scale": {"domain": [-0.05, 1.05], "nice": false, "zero": false}, "axis": {"title": "Normalized trends of observed nitrate and simulated nitrate", "titlePadding": 10, "titleY": 134, "values": [0, 0.25, 0.5, 0.75, 1], "format": ".2f"}},
            "color": {"field": "series", "type": "nominal", "scale": {"domain": ["Observed nitrate", "Simulated nitrate"], "range": ["#000000", "#c62828"]}, "legend": {"title": null, "orient": "none", "legendX": 810, "legendY": 32, "symbolType": "stroke", "symbolSize": 289, "symbolStrokeWidth": 1.6, "labelFontSize": 18, "labelColor": "#000000", "labelFont": "Liberation Sans", "labelOffset": 15, "rowPadding": 5, "padding": 0}}
          }
        },
        {
          "data": {"values": [{"label": "(b)"}]},
          "mark": {"type": "text", "fontSize": 18, "fontWeight": "bold", "align": "left", "baseline": "middle", "color": "#000000"},
          "encoding": {"text": {"field": "label"}, "x": {"datum": 2004.08, "type": "quantitative"}, "y": {"datum": 0.94, "type": "quantitative"}}
        }
      ]
    },
    {
      "width": 1118,
      "height": 218,
      "layer": [
        {
          "data": {"name": "d"},
          "transform": [{"filter": "datum.panel == 'c'"}],
          "mark": {"type": "line", "strokeWidth": 1.6, "interpolate": "monotone"},
          "encoding": {
            "x": {"field": "year", "type": "quantitative", "scale": {"domain": [2004, 2018.91], "nice": false, "zero": false}, "axis": {"title": "Date", "titleFontSize": 18, "titlePadding": 14, "titleX": 537, "values": [2004, 2006, 2008, 2010, 2012, 2014, 2016, 2018], "format": "d"}},
            "y": {"field": "value", "type": "quantitative", "scale": {"domain": [-0.05, 1.05], "nice": false, "zero": false}, "axis": {"title": null, "values": [0, 0.25, 0.5, 0.75, 1], "format": ".2f"}},
            "color": {"field": "series", "type": "nominal", "scale": {"domain": ["Observed nitrate", "Simulated nitrate"], "range": ["#000000", "#c62828"]}, "legend": null}
          }
        },
        {
          "data": {"values": [{"label": "(c)"}]},
          "mark": {"type": "text", "fontSize": 18, "fontWeight": "bold", "align": "left", "baseline": "middle", "color": "#000000"},
          "encoding": {"text": {"field": "label"}, "x": {"datum": 2004.08, "type": "quantitative"}, "y": {"datum": 0.94, "type": "quantitative"}}
        }
      ]
    }
  ]
}
